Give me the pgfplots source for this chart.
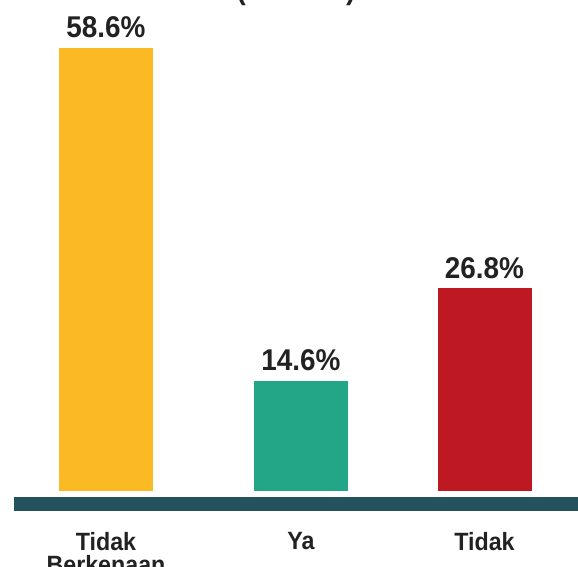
\documentclass[border=0pt]{standalone}
\usepackage{pgfplots}
\pgfplotsset{compat=1.18}
\usepackage{fontspec}
\setmainfont{Liberation Sans}
\newfontfamily\lbl{Liberation Sans}[FakeStretch=0.93]
\definecolor{cy}{HTML}{FBB924}
\definecolor{cg}{HTML}{23A688}
\definecolor{cr}{HTML}{BE1823}
\definecolor{band}{HTML}{24535F}
\definecolor{txt}{HTML}{222222}
\begin{document}
\begin{tikzpicture}
\begin{axis}[
  at={(0,0)}, anchor=south west,
  scale only axis, width=578pt, height=566pt,
  xmin=0, xmax=578, ymin=-9.92, ymax=64.95,
  axis line style={draw=none},
  ytick=\empty,
  xtick={106,301,484.5},
  xticklabels={{Tidak\\Berkenaan},Ya,Tidak},
  major tick length=0pt,
  xticklabel style={font=\lbl\bfseries\fontsize{25}{23}\selectfont, align=center, anchor=north, inner sep=0pt, text=txt, yshift=33.5pt},
  clip=false,
  ybar, bar width=94, bar shift=0pt,
  nodes near coords={\pgfmathprintnumber[assume math mode=true,fixed,precision=1,fixed zerofill]{\pgfplotspointmeta}\%},
  every node near coord/.append style={font=\lbl\bfseries\fontsize{30}{30}\selectfont, text=txt, anchor=base, inner sep=0pt, yshift=10pt},
]
\addplot[fill=cy, draw=none] coordinates {(106,58.6)};
\addplot[fill=cg, draw=none] coordinates {(301,14.6)};
\addplot[fill=cr, draw=none] coordinates {(484.5,26.8)};
\fill[band] (axis cs:14,-0.79) rectangle (axis cs:600,-2.65);
\node[font=\lbl\bfseries\fontsize{30}{30}\selectfont, text=txt, anchor=base, inner sep=0pt] at (axis cs:296,65.08) {(\hspace{100pt})};
\end{axis}
\pgfresetboundingbox
\path[use as bounding box] (0,0) rectangle (578pt,566pt);
\end{tikzpicture}
\end{document}
